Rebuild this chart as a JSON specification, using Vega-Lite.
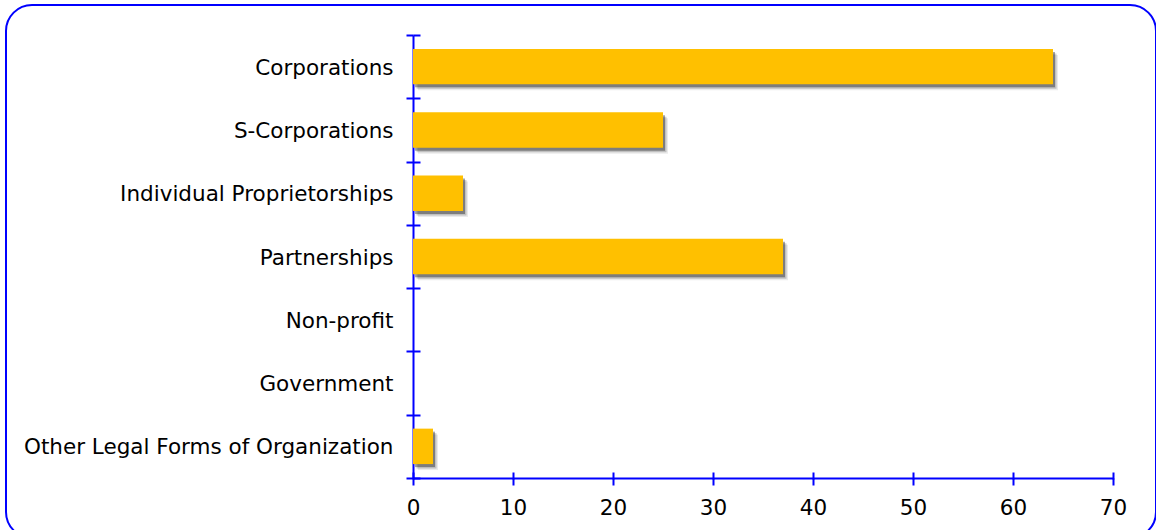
{
  "$schema": "https://vega.github.io/schema/vega-lite/v6.json",
  "width": 1150,
  "height": 533,
  "autosize": {"type": "none"},
  "padding": {"left": 6, "top": 5, "right": 0, "bottom": 0},
  "background": "white",
  "view": {"stroke": "#0000FF", "strokeWidth": 2, "cornerRadius": 26, "fill": "white"},
  "data": {
    "values": [
      {"form": "Corporations", "value": 64},
      {"form": "S-Corporations", "value": 25},
      {"form": "Individual Proprietorships", "value": 5},
      {"form": "Partnerships", "value": 37},
      {"form": "Non-profit", "value": 0},
      {"form": "Government", "value": 0},
      {"form": "Other Legal Forms of Organization", "value": 2}
    ]
  },
  "encoding": {
    "y": {
      "field": "form",
      "type": "nominal",
      "sort": null,
      "scale": {"range": [30, 473], "paddingInner": 0, "paddingOuter": 0},
      "axis": {
        "title": null,
        "orient": "left",
        "offset": -407,
        "domainColor": "#0000FF",
        "domainWidth": 2,
        "tickColor": "#0000FF",
        "tickWidth": 2,
        "tickSize": 7,
        "tickBand": "extent",
        "grid": true,
        "gridColor": "#0000FF",
        "gridWidth": 2,
        "gridDash": [7, 3000],
        "labelFont": "DejaVu Sans",
        "labelFontSize": 21.5,
        "labelColor": "#000000",
        "labelPadding": 13,
        "labelOffset": 1.5,
        "labelLimit": 0
      }
    },
    "x": {
      "field": "value",
      "type": "quantitative",
      "scale": {"domain": [0, 70], "range": [407, 1107], "nice": false, "zero": true},
      "axis": {
        "title": null,
        "orient": "bottom",
        "offset": -60,
        "values": [0, 10, 20, 30, 40, 50, 60, 70],
        "domainColor": "#0000FF",
        "domainWidth": 2,
        "tickColor": "#0000FF",
        "tickWidth": 2,
        "tickSize": 7,
        "grid": true,
        "gridColor": "#0000FF",
        "gridWidth": 2,
        "gridDash": [0, 29, 7, 3000],
        "labelFont": "DejaVu Sans",
        "labelFontSize": 21.5,
        "labelColor": "#000000",
        "labelPadding": 12,
        "labelFlush": false
      }
    }
  },
  "layer": [
    {"mark": {"type": "bar", "height": {"band": 0.56}, "color": "#000000", "opacity": 0.08, "xOffset": 5, "x2Offset": 7, "yOffset": 6, "y2Offset": 6}},
    {"mark": {"type": "bar", "height": {"band": 0.56}, "color": "#000000", "opacity": 0.18, "xOffset": 3.5, "x2Offset": 5.5, "yOffset": 4.5, "y2Offset": 4.5}},
    {"mark": {"type": "bar", "height": {"band": 0.56}, "color": "#000000", "opacity": 0.35, "xOffset": 2, "x2Offset": 4, "yOffset": 3, "y2Offset": 3}},
    {"mark": {"type": "bar", "height": {"band": 0.56}, "color": "#FFC000", "xOffset": 0, "x2Offset": 2}}
  ]
}
